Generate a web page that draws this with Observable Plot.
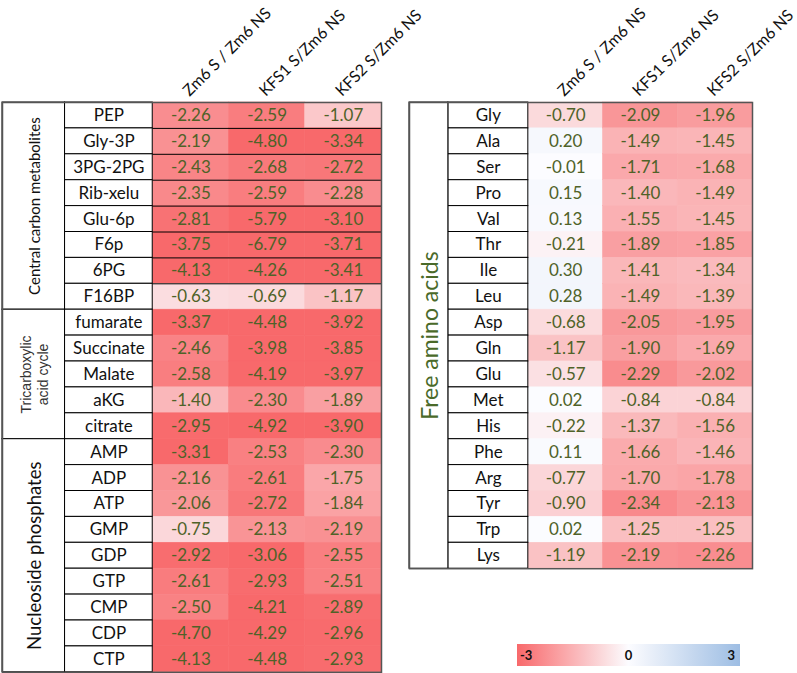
<!DOCTYPE html>
<html>
<head>
<meta charset="utf-8">
<script src="https://cdn.jsdelivr.net/npm/d3@7"></script>
<script src="https://cdn.jsdelivr.net/npm/@observablehq/plot@0.6"></script>
<style>
  body { margin: 0; background: #fff; }
  #root { position: relative; width: 797px; height: 673px; overflow: hidden; font-family: Lato, sans-serif; }
  .panel { position: absolute; top: 0; }
  #legend { position: absolute; left: 517px; top: 644px; width: 223px; height: 22px; }
  #legend span { position: absolute; top: 3px; font: bold 13px Lato, sans-serif; color: #111; }
</style>
</head>
<body>
<div id="root"></div>
<script>
// ---- data ----
const columns = ["Zm6 S / Zm6 NS", "KFS1 S/Zm6 NS", "KFS2 S/Zm6 NS"];

const leftRows = ["PEP","Gly-3P","3PG-2PG","Rib-xelu","Glu-6p","F6p","6PG","F16BP",
  "fumarate","Succinate","Malate","aKG","citrate",
  "AMP","ADP","ATP","GMP","GDP","GTP","CMP","CDP","CTP"];
const leftZm6  = [-2.26,-2.19,-2.43,-2.35,-2.81,-3.75,-4.13,-0.63,-3.37,-2.46,-2.58,-1.40,-2.95,-3.31,-2.16,-2.06,-0.75,-2.92,-2.61,-2.50,-4.70,-4.13];
const leftKFS1 = [-2.59,-4.80,-2.68,-2.59,-5.79,-6.79,-4.26,-0.69,-4.48,-3.98,-4.19,-2.30,-4.92,-2.53,-2.61,-2.72,-2.13,-3.06,-2.93,-4.21,-4.29,-4.48];
const leftKFS2 = [-1.07,-3.34,-2.72,-2.28,-3.10,-3.71,-3.41,-1.17,-3.92,-3.85,-3.97,-1.89,-3.90,-2.30,-1.75,-1.84,-2.19,-2.55,-2.51,-2.89,-2.96,-2.93];
const leftGroupNames = ["Central carbon metabolites", "Tricarboxylic\nacid cycle", "Nucleoside phosphates"];
const leftGroupSizes = [8, 5, 9];

const rightRows = ["Gly","Ala","Ser","Pro","Val","Thr","Ile","Leu","Asp","Gln","Glu","Met","His","Phe","Arg","Tyr","Trp","Lys"];
const rightZm6  = [-0.70,0.20,-0.01,0.15,0.13,-0.21,0.30,0.28,-0.68,-1.17,-0.57,0.02,-0.22,0.11,-0.77,-0.90,0.02,-1.19];
const rightKFS1 = [-2.09,-1.49,-1.71,-1.40,-1.55,-1.89,-1.41,-1.49,-2.05,-1.90,-2.29,-0.84,-1.37,-1.66,-1.70,-2.34,-1.25,-2.19];
const rightKFS2 = [-1.96,-1.45,-1.68,-1.49,-1.45,-1.85,-1.34,-1.39,-1.95,-1.69,-2.02,-0.84,-1.56,-1.46,-1.78,-2.13,-1.25,-2.26];
const rightGroupNames = ["Free amino acids"];
const rightGroupSizes = [18];

const legendTicks = [-3, 0, 3];

// ---- styling / layout ----
const RED = "#F8696B", MID = "#FCFCFF", BLUE = "#9DBDE3";
const colorScale = {type: "linear", domain: [-3, 0, 3], range: [RED, MID, BLUE], clamp: true, interpolate: "rgb"};
const VALUE_COLOR = "#4F6228";
const ROW_H = 25.9, TOP = 102, H = 673;

function panel({rows, series, groupNames, groupSizes, groupStyles, gw, nw, left, width, marginLeft, marginRight, gridGroups}) {
  const rowObjs = rows.map((name, i) => ({name, i}));
  const cells = [];
  series.forEach((vals, j) => vals.forEach((v, i) => cells.push({i, j, v})));
  let start = 0;
  const groups = groupNames.map((label, k) => {
    const g = {label, k, start, end: start + groupSizes[k]};
    start += groupSizes[k];
    return g;
  });
  const gridRows = [];
  groups.forEach(g => { if (gridGroups.includes(g.k)) for (let i = g.start; i < g.end - 1; i++) gridRows.push(i); });
  const nRows = rows.length;
  const marginBottom = H - TOP - nRows * ROW_H;

  const groupTextMarks = groups.map(g => Plot.text([g], {
    x: -nw - gw / 2, y: d => (d.start + d.end) / 2, text: "label", rotate: -90,
    fontSize: groupStyles[g.k].size, fill: groupStyles[g.k].color,
    fontFamily: groupStyles[g.k].font, lineHeight: 1.2
  }));

  const svg = Plot.plot({
    width, height: H, marginTop: TOP, marginBottom, marginLeft, marginRight,
    x: {type: "linear", domain: [-nw - gw, 3], axis: null},
    y: {type: "linear", domain: [0, nRows], reverse: true, axis: null},
    color: colorScale,
    style: {fontFamily: "Lato, sans-serif", fontSize: "15px", background: "transparent", overflow: "visible"},
    marks: [
      Plot.rect(cells, {x1: d => d.j, x2: d => d.j + 1, y1: d => d.i, y2: d => d.i + 1, fill: "v", stroke: "v", strokeWidth: 0.6}),
      Plot.ruleY(gridRows, {y: d => d + 1, x1: 0, x2: 3, stroke: "#000", strokeWidth: 1}),
      Plot.rect(rowObjs, {x1: -nw, x2: 0, y1: d => d.i, y2: d => d.i + 1, fill: "#fff", stroke: "#000", strokeWidth: 1}),
      Plot.text(rowObjs, {x: -nw / 2, y: d => d.i + 0.5, text: "name", fontSize: 17, fill: "#111"}),
      Plot.text(cells, {x: d => d.j + 0.5, y: d => d.i + 0.5, text: d => d.v.toFixed(2), fontSize: 17, fill: VALUE_COLOR}),
      Plot.rect(groups, {x1: -nw - gw, x2: -nw, y1: "start", y2: "end", fill: "#fff", stroke: "#000", strokeWidth: 1}),
      ...groupTextMarks,
      Plot.frame({stroke: "#555", strokeWidth: 1.5}),
      Plot.text(columns, {x: (d, j) => j + 0.5, y: 0, text: d => d, rotate: -45, textAnchor: "start", dx: -5, dy: -9, fontSize: 16, fill: "#111"})
    ]
  });
  svg.classList.add("panel");
  svg.style.left = left + "px";
  return svg;
}

const root = document.getElementById("root");
root.appendChild(panel({
  rows: leftRows, series: [leftZm6, leftKFS1, leftKFS2],
  groupNames: leftGroupNames, groupSizes: leftGroupSizes,
  groupStyles: [
    {size: 15, color: "#111", font: "Lato, sans-serif"},
    {size: 14, color: "#333", font: "'Liberation Sans', Arial, sans-serif"},
    {size: 18.5, color: "#111", font: "Lato, sans-serif"}
  ],
  gw: 0.82, nw: 1.15, left: 0, width: 415, marginLeft: 2, marginRight: 34, gridGroups: [0]
}));
root.appendChild(panel({
  rows: rightRows, series: [rightZm6, rightKFS1, rightKFS2],
  groupNames: rightGroupNames, groupSizes: rightGroupSizes,
  groupStyles: [{size: 23, color: "#4A6A2A", font: "Lato, sans-serif"}],
  gw: 0.52, nw: 1.07, left: 400, width: 397, marginLeft: 9, marginRight: 45, gridGroups: []
}));

// legend
const lg = document.createElement("div");
lg.id = "legend";
const cs = d3.scaleLinear().domain(colorScale.domain).range(colorScale.range);
lg.style.background = `linear-gradient(to right, ${d3.range(0, 1.0001, 0.1).map(t => cs(-3 + 6 * t) + " " + (t * 100) + "%").join(", ")})`;
legendTicks.forEach((t, k) => {
  const s = document.createElement("span");
  s.textContent = String(t).replace("\u2212", "-");
  if (k === 0) s.style.left = "3px";
  else if (k === legendTicks.length - 1) s.style.right = "5px";
  else { s.style.left = "50%"; s.style.transform = "translateX(-50%)"; }
  lg.appendChild(s);
});
root.appendChild(lg);
</script>
</body>
</html>
